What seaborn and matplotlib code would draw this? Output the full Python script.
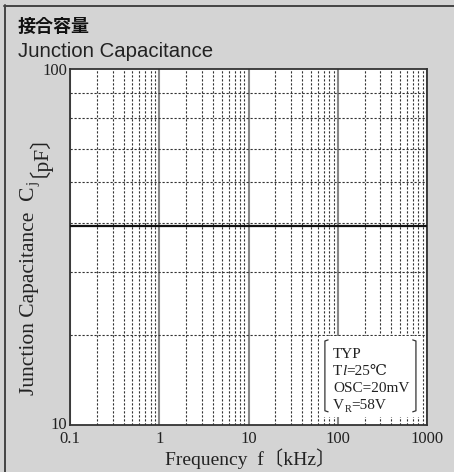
import numpy as np
import pandas as pd
import seaborn as sns
import matplotlib.pyplot as plt
from matplotlib.lines import Line2D
from matplotlib.patches import Rectangle
from matplotlib.ticker import FixedLocator, LogLocator, NullFormatter

# data
freq_khz = [0.1, 1, 10, 100, 1000]
cap_pf = [36.3, 36.3, 36.3, 36.3, 36.3]
x_ticks = [0.1, 1, 10, 100, 1000]
x_labels = ["0.1", "1", "10", "100", "1000"]
y_ticks = [10, 100]
y_labels = ["10", "100"]
y_grid = [17.9, 26.9, 37.0, 48.0, 59.7, 72.7, 85.8]  # minor grid as drawn on the sheet

sns.set_style("white")
serif = ["Liberation Serif", "DejaVu Serif", "DejaVu Sans", "Noto Sans CJK JP"]
plt.rcParams["font.family"] = serif

bg = "#d4d4d4"
ink = "#222222"
fig = plt.figure(figsize=(4.54, 4.72), dpi=100, facecolor=bg)
ax = fig.add_axes([70 / 454, 1 - 425 / 472, 357 / 454, 356 / 472])
ax.set_facecolor("white")

df = pd.DataFrame({"f": freq_khz, "c": cap_pf})
sns.lineplot(data=df, x="f", y="c", color="#111111", lw=1.6, ax=ax, zorder=3)

ax.set_xscale("log")
ax.set_yscale("log")
ax.set_xlim(0.1, 1000)
ax.set_ylim(10, 100)

ax.xaxis.set_major_locator(FixedLocator(x_ticks))
ax.set_xticklabels(x_labels)
ax.xaxis.set_minor_locator(LogLocator(base=10, subs=np.arange(2, 10)))
ax.xaxis.set_minor_formatter(NullFormatter())
ax.yaxis.set_major_locator(FixedLocator(y_ticks))
ax.set_yticklabels(y_labels)
ax.yaxis.set_minor_locator(FixedLocator(y_grid))
ax.yaxis.set_minor_formatter(NullFormatter())

ax.tick_params(which="both", length=0)
ax.tick_params(axis="x", pad=4, labelsize=12, labelcolor=ink)
ax.tick_params(axis="y", pad=2, labelsize=12, labelcolor=ink)
ax.get_yticklabels()[0].set_va("center")

ax.set_axisbelow(True)
ax.grid(which="minor", axis="both", ls=(0, (2, 1.6)), lw=0.8, color="#333333")
ax.grid(which="major", axis="x", ls="-", lw=1.5, color="#888888")

for s in ax.spines.values():
    s.set_color("#333333")
    s.set_linewidth(1.3)

ax.set_xlabel("Frequency  f〔kHz〕", fontsize=14, color=ink)
ax.xaxis.label.set_va("baseline")
ax.xaxis.set_label_coords(0.505, -0.112)
ax.set_ylabel("")

# y label built from pieces so the subscript keeps the CJK brackets
yl = ax.text(-0.101, 0.085, "Junction Capacitance  C", transform=ax.transAxes, rotation=90,
             rotation_mode="anchor", ha="left", va="baseline", fontsize=15.5, color=ink)
yj = ax.annotate("j", xy=(-0.101, 1), xycoords=("axes fraction", yl), xytext=(2.5, 0.5),
                 textcoords="offset points", rotation=90, rotation_mode="anchor",
                 ha="left", va="baseline", fontsize=10.5, color=ink)
ax.annotate("〔pF〕", xy=(-0.101, 1), xycoords=("axes fraction", yj), xytext=(0, 3),
            textcoords="offset points", rotation=90,
            rotation_mode="anchor", ha="left", va="baseline", fontsize=15.5, color=ink)

# condition box
ax.add_patch(Rectangle((0.697, 0.022), 0.288, 0.228, transform=ax.transAxes,
                       facecolor="white", edgecolor="none", zorder=2))
for xb, d in [(0.714, 0.009), (0.969, -0.009)]:
    ax.add_line(Line2D([xb + d, xb, xb, xb + d], [0.239, 0.236, 0.040, 0.037],
                       transform=ax.transAxes, color="#333333", lw=0.9, zorder=4))

tx = 0.737
kw = dict(fontsize=11, va="baseline", ha="left", color=ink, zorder=5)
ax.text(tx, 0.188, "TYP", transform=ax.transAxes, **kw)
t = ax.text(tx, 0.140, "T", transform=ax.transAxes, **kw)
t = ax.annotate("l", xy=(1, 0.140), xycoords=(t, "axes fraction"), fontstyle="italic", **kw)
ax.annotate("=25℃", xy=(1, 0.140), xycoords=(t, "axes fraction"), **kw)
ax.text(tx, 0.0927, "OSC=20mV", transform=ax.transAxes, **kw)
t = ax.text(tx, 0.045, "V", transform=ax.transAxes, **kw)
kw_sub = dict(kw, fontsize=7.5)
t = ax.annotate("R", xy=(1, 0.045), xycoords=(t, "axes fraction"), xytext=(0.2, -2),
                textcoords="offset points", **kw_sub)
ax.annotate("=58V", xy=(1, 0.045), xycoords=(t, "axes fraction"), **kw)

# titles and sheet frame
fig.text(18 / 454, 1 - 17 / 472, "接合容量", fontsize=13, fontweight="bold", va="top",
         family=["Noto Sans CJK JP"], color="#111111")
fig.text(18 / 454, 1 - 57 / 472, "Junction Capacitance", fontsize=14.7, va="baseline",
         family=["Liberation Sans"], color=ink)
fig.add_artist(Line2D([4.5 / 454, 4.5 / 454], [0, 1 - 5 / 472], transform=fig.transFigure,
                      color="#444444", lw=1.4))
fig.add_artist(Line2D([4 / 454, 1], [1 - 5.5 / 472, 1 - 5.5 / 472], transform=fig.transFigure,
                      color="#444444", lw=1.4))

fig.savefig("out.png", dpi=100, facecolor=bg)
